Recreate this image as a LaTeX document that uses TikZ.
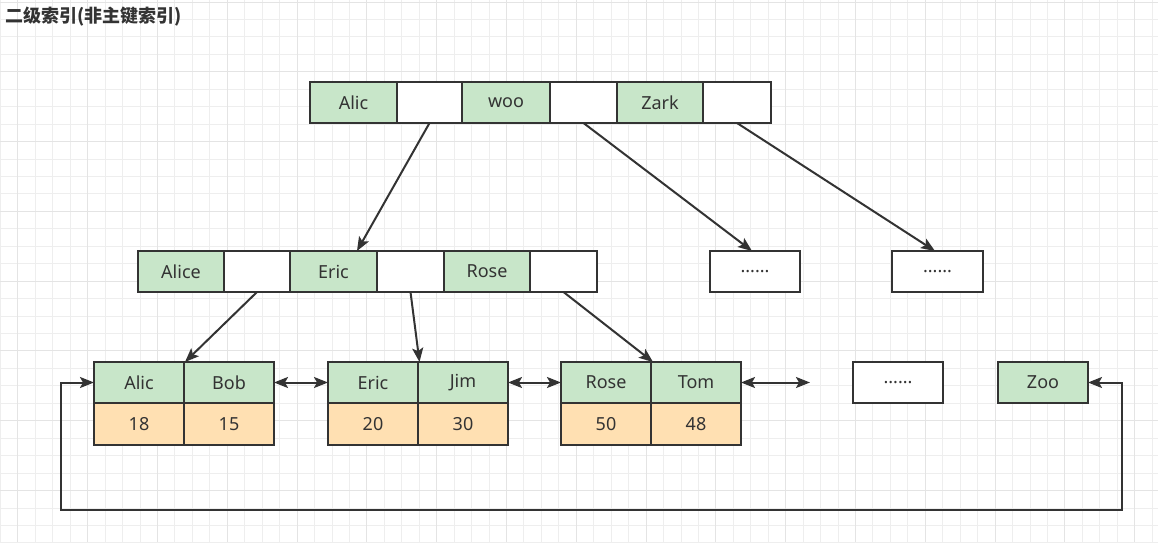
\documentclass[tikz,border=0pt]{standalone}
\usepackage{fontspec}
\setmainfont{Noto Sans}
\newfontfamily\cjk{Noto Sans CJK SC}
\usetikzlibrary{arrows.meta}
\definecolor{gfill}{RGB}{200,230,201}
\definecolor{ofill}{RGB}{255,224,178}
\definecolor{ink}{RGB}{51,51,51}
\definecolor{gridminor}{RGB}{238,238,238}
\definecolor{gridmajor}{RGB}{228,228,228}
\begin{document}
\begin{tikzpicture}[x=1pt,y=-1pt,
  cell/.style={draw=ink,line width=2pt,inner sep=0pt,outer sep=0pt,minimum height=41pt,
    font=\fontsize{18}{20}\selectfont,text=ink},
  gcell/.style={cell,fill=gfill},
  wcell/.style={cell,fill=white},
  ocell/.style={cell,fill=ofill,minimum height=42pt},
  tip/.tip={Stealth[length=14pt,width=11pt,inset=3pt]},
  arr/.style={draw=ink,line width=2pt,-tip},
  darr/.style={draw=ink,line width=2pt,tip-tip},
]
\useasboundingbox (0,0) rectangle (1158,542);
\fill[white] (0,0) rectangle (1158,542);
% grid
\foreach \i in {0,...,66} {\pgfmathsetmacro{\xx}{round(\i*17.45)+0.5}\draw[gridminor,line width=1pt] (\xx,0) -- (\xx,542);}
\foreach \j in {0,...,31} {\pgfmathsetmacro{\yy}{round(1.5+\j*17.45)+0.5}\draw[gridminor,line width=1pt] (0,\yy) -- (1158,\yy);}
\foreach \i in {1,5,...,65} {\pgfmathsetmacro{\xx}{round(\i*17.45)+0.5}\draw[gridmajor,line width=1.5pt] (\xx,0) -- (\xx,542);}
\foreach \j in {0,4,...,28} {\pgfmathsetmacro{\yy}{round(1.5+\j*17.45)+0.5}\draw[gridmajor,line width=1.5pt] (0,\yy) -- (1158,\yy);}

% title
\node[anchor=west,inner sep=0pt,font=\cjk\bfseries\fontsize{18}{20}\selectfont,text=ink] (title) at (5,17) {二级索引(非主键索引)};

% top row
\node[gcell,minimum width=87pt] (ta) at (353.5,102.5) {Alic};
\node[wcell,minimum width=65pt] (tb) at (429.5,102.5) {};
\node[gcell,minimum width=88pt] (tc) at (506,102.5) {woo};
\node[wcell,minimum width=67pt] (td) at (583.5,102.5) {};
\node[gcell,minimum width=86pt] (te) at (660,102.5) {Zark};
\node[wcell,minimum width=68pt] (tf) at (737,102.5) {};

% middle row
\node[gcell,minimum width=86pt] (ma) at (181,271.5) {Alice};
\node[wcell,minimum width=66pt] (mb) at (257,271.5) {};
\node[gcell,minimum width=87pt] (mc) at (333.5,271.5) {Eric};
\node[wcell,minimum width=67pt] (md) at (410.5,271.5) {};
\node[gcell,minimum width=86pt] (me) at (487,271.5) {Rose};
\node[wcell,minimum width=67pt] (mf) at (563.5,271.5) {};
\node[wcell,minimum width=90pt] (d1) at (755,271.5) {......};
\node[wcell,minimum width=91pt] (d2) at (937.5,271.5) {......};

% leaves
\node[gcell,minimum width=90pt] (la) at (139,382.5) {Alic};
\node[gcell,minimum width=90pt] (lb) at (229,382.5) {Bob};
\node[ocell,minimum width=90pt] (na) at (139,424) {18};
\node[ocell,minimum width=90pt] (nb) at (229,424) {15};

\node[gcell,minimum width=90pt] (lc) at (373,382.5) {Eric};
\node[gcell,minimum width=90pt] (ld) at (463,382.5) {Jim};
\node[ocell,minimum width=90pt] (nc) at (373,424) {20};
\node[ocell,minimum width=90pt] (nd) at (463,424) {30};

\node[gcell,minimum width=90pt] (le) at (606,382.5) {Rose};
\node[gcell,minimum width=90pt] (lf) at (696,382.5) {Tom};
\node[ocell,minimum width=90pt] (ne) at (606,424) {50};
\node[ocell,minimum width=90pt] (nf) at (696,424) {48};

\node[wcell,minimum width=90pt] (d3) at (898,382.5) {......};
\node[gcell,minimum width=90pt] (zoo) at (1043,382.5) {Zoo};

% tree connectors
\draw[arr] (tb.south) -- ([xshift=23.5pt]mc.north);
\draw[arr] (td.south) -- ([xshift=-3pt]d1.north);
\draw[arr] (tf.south) -- ([xshift=-2.5pt]d2.north);
\draw[arr] (mb.south) -- ([xshift=1pt]la.north east);
\draw[arr] (md.south) -- ([xshift=1.5pt]lc.north east);
\draw[arr] (mf.south) -- ([xshift=2pt]le.north east);

% leaf links
\coordinate (tail) at (810,382.5);
\draw[darr] (lb.east) -- (lc.west);
\draw[darr] (ld.east) -- (le.west);
\draw[darr] (lf.east) -- (tail);

% loop
\coordinate (lp1) at (1121.5,510);
\coordinate (lp2) at (60.5,510);
\draw[darr] (zoo.east) -| (lp1) -- (lp2) |- (la.west);
\end{tikzpicture}
\end{document}
